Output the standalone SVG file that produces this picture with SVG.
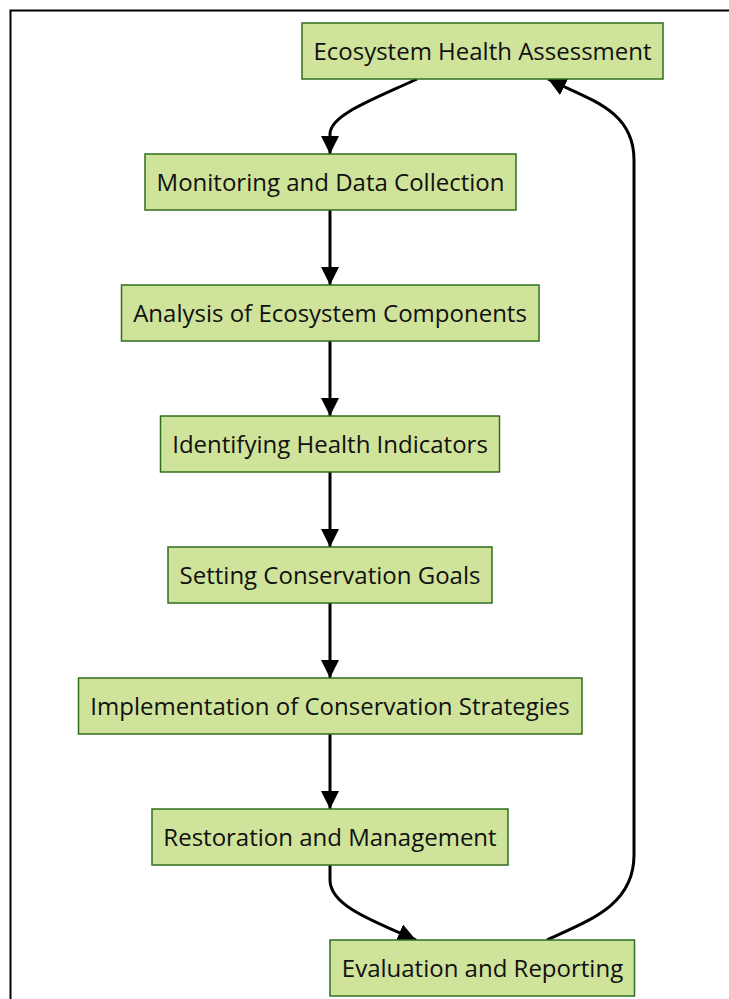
<svg xmlns="http://www.w3.org/2000/svg" width="729" height="999" viewBox="0 0 729 999">
  <style>
    .node rect { fill: #cfe39a; stroke: #2f6e1f; stroke-width: 1.5; }
    .node text { font-family: "Open Sans", "Noto Sans", "DejaVu Sans", sans-serif; font-size: 24px; fill: #111; text-anchor: middle; dominant-baseline: central; }
    .edge { fill: none; stroke: #000; stroke-width: 3; marker-end: url(#arrow); }
    .frame { fill: none; stroke: #000; stroke-width: 2; }
  </style>
  <defs>
    <marker id="arrow" viewBox="0 0 10 10" refX="10" refY="5" markerUnits="userSpaceOnUse" markerWidth="18" markerHeight="18" orient="auto">
      <path d="M0,0 L10,5 L0,10 Z" fill="#000"/>
    </marker>
  </defs>
  <rect width="729" height="999" fill="#fff"/>
  <!-- outer frame -->
  <path class="frame" d="M10.5,999 L10.5,10.5 L729,10.5"/>

  <g id="connectors">
    <path class="edge" d="M417,79 C372,100 330,115 330,134 L330,154"/>
    <path class="edge" d="M330,210 L330,285"/>
    <path class="edge" d="M330,341 L330,416"/>
    <path class="edge" d="M330,472 L330,547"/>
    <path class="edge" d="M330,603 L330,678"/>
    <path class="edge" d="M330,734 L330,809"/>
    <path class="edge" d="M330,865 L330,880 C330,905 370,920 416,940"/>
    <path class="edge" d="M547,940 C590,920 634,905 634,855 L634,160 C634,110 590,100 548,79"/>
  </g>

  <g id="n1" class="node"><rect x="302" y="23" width="361" height="56"/><text x="482.5" y="50">Ecosystem Health Assessment</text></g>
  <g id="n2" class="node"><rect x="145" y="154" width="371" height="56"/><text x="330.5" y="181">Monitoring and Data Collection</text></g>
  <g id="n3" class="node"><rect x="121.5" y="285" width="417.5" height="56"/><text x="330" y="312">Analysis of Ecosystem Components</text></g>
  <g id="n4" class="node"><rect x="160.5" y="416" width="339" height="56"/><text x="330" y="443">Identifying Health Indicators</text></g>
  <g id="n5" class="node"><rect x="168" y="547" width="324" height="56"/><text x="330" y="574">Setting Conservation Goals</text></g>
  <g id="n6" class="node"><rect x="78.5" y="678" width="503.5" height="56"/><text x="330" y="705">Implementation of Conservation Strategies</text></g>
  <g id="n7" class="node"><rect x="152" y="809" width="356" height="56"/><text x="330" y="836">Restoration and Management</text></g>
  <g id="n8" class="node"><rect x="330" y="940" width="304.5" height="56"/><text x="482.5" y="967">Evaluation and Reporting</text></g>
</svg>
